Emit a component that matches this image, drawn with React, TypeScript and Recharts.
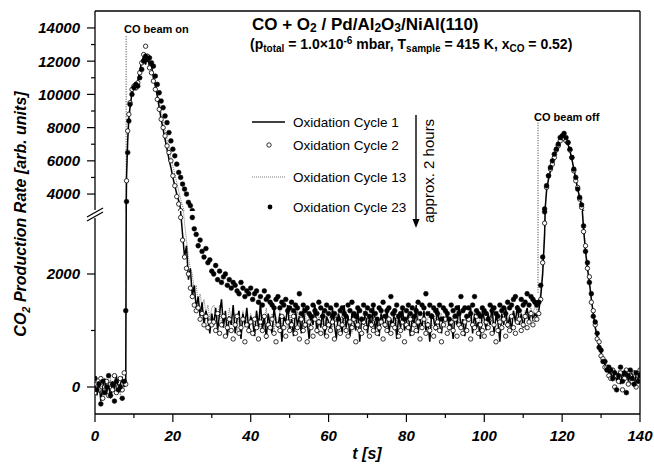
import { Line, LineChart, ReferenceLine, XAxis, YAxis } from 'recharts';

// sampling grid of the recorded traces (s)
const span = (from: number, to: number, step: number) =>
    Array.from({ length: Math.round((to - from) / step) + 1 }, (_, i) => from + i * step);

const times = [
    ...span(0, 7.5, 0.5),
    7.9, 8.1, 8.4, 8.7,
    ...span(9, 30, 0.5),
    ...span(30.5, 113, 0.5),
    ...span(113.5, 132, 0.5),
    ...span(132.5, 140, 0.5),
];

// CO2 rate, arb. units
const cycle1 = [
    50, -150, 100, -250, 0, 150, -100, 50, -200, 100, -50, 200, -100, 50, 150, 0,
    100, 5000, 7200, 8600,
    9200, 10100, 10400, 10300, 10800, 11400, 12000, 12300, 11800, 12400, 11600, 11800, 11000, 10500, 9900, 9200,
    8500, 7900, 7300, 6700, 6100, 5600, 5000, 4500, 4000, 3600, 3100, 2700, 2300, 2500, 1900, 2100, 1600, 1800,
    1400, 1600, 1250, 1500, 1100, 1350, 1200, 950, 1300,
    1100, 1400, 1000, 1300, 1550, 1050, 1350, 900, 1250, 1100,
    1450, 950, 1200, 1350, 850, 1300, 1100, 1400, 1000, 1250,
    1150, 900, 1350, 1050, 1500, 1000, 1250, 850, 1300, 1100,
    950, 1400, 1150, 1050, 1300, 800, 1250, 1150, 1450, 1000,
    1200, 900, 1350, 1100, 1250, 950, 1400, 1050, 1150, 850,
    1300, 1100, 1450, 950, 1200, 1050, 1350, 900, 1250, 1150,
    1000, 1400, 1100, 850, 1300, 1200, 950, 1450, 1050, 1250,
    900, 1300, 1150, 1000, 1400, 800, 1200, 1100, 1350, 950,
    1250, 1050, 1450, 1000, 1200, 900, 1300, 1150, 1050, 1400,
    950, 1200, 1100, 1350, 850, 1250, 1050, 1400, 1000, 1150,
    1300, 900, 1250, 1100, 1450, 950, 1200, 1050, 1350, 1000,
    1150, 800, 1300, 1200, 1000, 1400, 1100, 950, 1250, 1150,
    1350, 1000, 1200, 850, 1300, 1100, 1450, 1050, 1200, 900,
    1250, 1150, 1400, 950, 1300, 1050, 1150, 850, 1350, 1200,
    1000, 1300, 1100, 1450, 950, 1250, 1150, 800, 1300, 1100,
    1400, 1050, 1250, 1000, 1350, 1150, 1450, 1100, 1300, 1050,
    1250, 1400, 1150, 1350, 1200, 1300,
    1250, 1350, 1600, 2000, 2700, 4200, 4900, 5400, 5900, 6300, 6600, 7000, 7300, 7450, 7500, 7300, 7000, 6600, 6100,
    5500, 4900, 4300, 3800, 3300, 2800, 2400, 2100, 1850, 1550, 1300, 1050, 900, 700, 600, 450, 400, 300, 250,
    250, 150, 300, 100, 200, 50, 250, 150, 300, 100, 200, 250, 50, 200, 150, 250,
];

const cycle2 = [
    -100, 50, -50, 150, -200, 0, 100, -150, 50, -50, 200, -100, 0, 150, -50, 250,
    50, 4800, 7800, 8800,
    9500, 10300, 10500, 10400, 10700, 11300, 11900, 12400, 12900, 12300, 11600, 11300, 10800, 10300, 9700, 9100,
    8500, 8000, 7500, 6900, 6500, 6000, 5100, 4500, 3850, 3400, 3000, 2600, 2300, 2100, 2000, 1750, 1600, 1450,
    1350, 1400, 1200, 1300, 1100, 1250, 1050, 1150, 1100,
    1150, 1000, 1300, 950, 1100, 1250, 900, 1050, 1200, 1000,
    850, 1100, 1250, 950, 1050, 1200, 800, 1100, 1000, 1150,
    950, 1200, 1050, 850, 1150, 1000, 1250, 900, 1100, 1050,
    1200, 950, 800, 1100, 1000, 1250, 1050, 900, 1150, 1000,
    1100, 1250, 950, 1050, 850, 1200, 1000, 1100, 800, 1150,
    1050, 900, 1200, 1000, 1150, 950, 1250, 1050, 900, 1100,
    1000, 1150, 850, 1200, 1050, 950, 1100, 1250, 1000, 900,
    1150, 1050, 1200, 800, 1100, 1000, 950, 1150, 1050, 1250,
    900, 1100, 1000, 1200, 950, 1050, 1150, 850, 1100, 1000,
    1200, 950, 1100, 1050, 1250, 900, 1000, 1150, 800, 1100,
    1050, 1200, 950, 1100, 1000, 1150, 850, 1050, 1200, 950,
    1100, 1000, 1250, 900, 1050, 1150, 1000, 800, 1100, 1200,
    950, 1050, 1150, 1000, 1200, 900, 1100, 1050, 950, 1150,
    1000, 1200, 850, 1100, 1050, 1250, 950, 1100, 1000, 900,
    1150, 1050, 1200, 950, 1100, 800, 1000, 1150, 1050, 1200,
    900, 1100, 1000, 1250, 1050, 950, 1150, 1200, 1000, 1100,
    1250, 1050, 1150, 1300, 1100, 1200,
    1200, 1300, 1550, 2200, 2900, 4400, 5100, 5500, 5800, 6200, 6650, 6900, 7200, 7400, 7350, 7200, 7100, 6650, 6200,
    5400, 4800, 4400, 3700, 3200, 2750, 2500, 2100, 1950, 1500, 1350, 1100, 850, 800, 550, 500, 350, 350, 200,
    150, 300, 0, 200, 100, 250, -50, 150, 300, 50, 200, 100, 250, 0, 200, 300,
];

const cycle13 = [
    0, 100, -100, 50, -150, 100, 0, -50, 150, -100, 50, 0, 100, -150, 50, 100,
    0, 5500, 7500, 8900,
    9300, 10000, 10300, 10500, 10900, 11200, 11700, 12100, 12300, 12000, 11900, 11500, 11200, 10700, 10200, 9600,
    9000, 8400, 7900, 7300, 6800, 6200, 5700, 5200, 4700, 4200, 3700, 3300, 2900, 2600, 2300, 2100, 2000, 1700,
    1800, 1500, 1650, 1400, 1550, 1300, 1450, 1200, 1400,
    1450, 1350, 1200, 1450, 1100, 1300, 1250, 1050, 1400, 1200,
    1100, 1300, 1000, 1250, 1150, 1350, 1050, 1200, 950, 1300,
    1150, 1050, 1350, 1200, 1000, 1250, 1150, 1400, 1050, 1200,
    1300, 1000, 1250, 1100, 1350, 950, 1200, 1150, 1050, 1300,
    1100, 1250, 1000, 1350, 1150, 1200, 950, 1300, 1100, 1250,
    1050, 1200, 1300, 1000, 1250, 1150, 1100, 1350, 1000, 1200,
    1250, 1050, 1200, 1300, 1000, 1150, 1250, 1050, 1350, 1100,
    1200, 950, 1300, 1150, 1050, 1250, 1100, 1350, 1000, 1200,
    1150, 1300, 1050, 1250, 1100, 1000, 1350, 1200, 1150, 1050,
    1250, 1100, 1300, 1000, 1200, 1150, 1050, 1350, 1100, 1250,
    1000, 1200, 1150, 1300, 1050, 1250, 1100, 1000, 1300, 1150,
    1200, 1350, 1050, 1150, 1250, 1000, 1200, 1300, 1100, 1050,
    1300, 1150, 1000, 1250, 1100, 1350, 1050, 1200, 1150, 1000,
    1200, 1300, 1100, 1050, 1250, 1150, 1000, 1300, 1200, 1100,
    1050, 1250, 1150, 1300, 1000, 1200, 1350, 1100, 1250, 1150,
    1300, 1150, 1050, 1250, 1350, 1200, 1100, 1300, 1250, 1150,
    1350, 1200, 1300, 1400, 1250, 1450,
    1350, 1450, 1700, 2100, 2850, 4300, 5000, 5500, 6000, 6300, 6600, 7100, 7300, 7500, 7550, 7400, 7050, 6700, 6150,
    5600, 4950, 4350, 3850, 3300, 2850, 2450, 2200, 1900, 1600, 1300, 1100, 900, 750, 600, 500, 400, 300, 300,
    200, 100, 250, 150, 300, 50, 200, 100, 250, 150, 50, 200, 300, 100, 200, 150,
];

const cycle23 = [
    150, -50, 50, -300, 100, -100, 0, 200, -150, 50, -250, 100, -50, 0, -200, 100,
    1350, 3550, 6500, 8400,
    9400, 10000, 10400, 10600, 10500, 11000, 11500, 12000, 12300, 12100, 12200, 11900, 11700, 11100, 10600, 10100,
    9600, 9200, 8700, 8300, 7700, 7200, 6700, 6300, 5800, 5300, 5000, 4600, 4300, 4000, 3500, 3300, 3000, 2800,
    2700, 2500, 2600, 2400, 2300, 2450, 2200, 2250, 2050,
    2000, 2150, 1900, 2050, 1850, 1950, 2000, 1800, 1900, 1750,
    1850, 1800, 1700, 1650, 1850, 1750, 1600, 1700, 1650, 1750,
    1550, 1650, 1700, 1500, 1600, 1450, 1700, 1550, 1600, 1500,
    1450, 1400, 1550, 1600, 1400, 1500, 1450, 1550, 1350, 1400,
    1500, 1350, 1450, 1400, 1650, 1300, 1450, 1350, 1400, 1300,
    1250, 1450, 1350, 1300, 1500, 1400, 1250, 1350, 1450, 1300,
    1400, 1250, 1300, 1450, 1200, 1350, 1400, 1300, 1250, 1450,
    1350, 1500, 1300, 1250, 1400, 1350, 1200, 1450, 1300, 1400,
    1250, 1350, 1450, 1300, 1200, 1400, 1350, 1500, 1250, 1350,
    1400, 1600, 1300, 1350, 1450, 1250, 1300, 1400, 1200, 1350,
    1450, 1300, 1400, 1250, 1350, 1500, 1300, 1450, 1400, 1650,
    1300, 1450, 1250, 1400, 1350, 1300, 1450, 1200, 1400, 1350,
    1300, 1200, 1450, 1350, 1250, 1400, 1300, 1600, 1350, 1400,
    1250, 1400, 1300, 1450, 1600, 1350, 1300, 1250, 1400, 1350,
    1300, 1200, 1450, 1350, 1400, 1300, 1250, 1450, 1350, 1400,
    1300, 1500, 1400, 1450, 1550, 1600, 1400, 1350, 1550, 1450,
    1500, 1650, 1450, 1600, 1550, 1500,
    1450, 1500, 1800, 2300, 3100, 4500, 5100, 5600, 6000, 6400, 6700, 7000, 7400, 7500, 7650, 7400, 7100, 6700, 6200,
    5500, 5000, 4300, 3800, 3350, 2850, 2400, 2200, 1850, 1650, 1250, 1150, 950, 700, 650, 450, 450, 300, 350,
    300, 150, 250, -50, 200, 350, 100, 250, -100, 200, 300, 150, 50, 250, 100, 200,
];

const xTicks = [0, 10, 20, 30, 40, 50, 60, 70, 80, 90, 100, 110, 120, 130, 140];
const upperTicks = [4000, 5000, 6000, 7000, 8000, 9000, 10000, 11000, 12000, 13000, 14000];
const lowerTicks = [0, 1000, 2000];

const BEAM_ON = 8;
const BEAM_OFF = 113.8;

const rows = times.map((t, i) => ({ t, c1: cycle1[i], c2: cycle2[i], c13: cycle13[i], c23: cycle23[i] }));

const FONT = '"Liberation Sans", Arial, Helvetica, sans-serif';
const axisFont = { fontFamily: FONT, fontWeight: 700, fontStyle: 'italic' as const, fontSize: 15, fill: '#000' };

const Y_TICK = 8;
const Y_GAP = 7;
const X_TICK = 8;
const X_GAP = 8;

function YTick(props: any) {
    const { x, y, payload } = props;
    const v = payload.value;
    const ax = x + Y_TICK + Y_GAP;
    const major = v % 2000 === 0;
    return (
        <g>
            <line x1={ax - (major ? 8 : 4)} x2={ax} y1={y} y2={y} stroke="#000" strokeWidth={1.2} />
            {major && (
                <text x={x} y={y} dy="0.36em" textAnchor="end" {...axisFont}>
                    {v}
                </text>
            )}
        </g>
    );
}

function XTick(props: any) {
    const { x, y, payload } = props;
    const v = payload.value;
    const ay = y - X_TICK - X_GAP;
    const major = v % 20 === 0;
    return (
        <g>
            <line x1={x} x2={x} y1={ay} y2={ay + (major ? 8 : 4)} stroke="#000" strokeWidth={1.2} />
            {major && (
                <text x={x} y={y} dy="0.72em" textAnchor="middle" {...axisFont}>
                    {v}
                </text>
            )}
        </g>
    );
}

const axisLine = { stroke: '#000', strokeWidth: 1.3 };

function traces() {
    return [
        <Line key="c13" dataKey="c13" stroke="#555" strokeWidth={0.8} strokeDasharray="1 1" dot={false} activeDot={false} isAnimationActive={false} />,
        <Line key="c1" dataKey="c1" stroke="#000" strokeWidth={1.5} dot={false} activeDot={false} isAnimationActive={false} />,
        <Line key="c2" dataKey="c2" stroke="none" dot={{ r: 2.2, stroke: '#000', strokeWidth: 0.8, fill: '#fff' }} activeDot={false} isAnimationActive={false} />,
        <Line key="c23" dataKey="c23" stroke="none" dot={{ r: 2.4, stroke: '#000', strokeWidth: 0.5, fill: '#000' }} activeDot={false} isAnimationActive={false} />,
    ];
}

const beamStyle = { stroke: '#333', strokeWidth: 1, strokeDasharray: '1 1.5' };

export default function App() {
    return (
        <div style={{ position: 'absolute', left: 0, top: 0, width: 654, height: 464, background: '#fff' }}>
            <div style={{ position: 'absolute', left: 0, top: 0 }}>
                <LineChart width={654} height={211} data={rows} margin={{ top: 11, right: 14, bottom: 0, left: 0 }}>
                    <XAxis type="number" dataKey="t" domain={[0, 140]} hide allowDataOverflow />
                    <YAxis
                        type="number"
                        domain={[2980, 15020]}
                        ticks={upperTicks}
                        interval={0}
                        allowDataOverflow
                        width={95}
                        tickSize={Y_TICK}
                        tickMargin={Y_GAP}
                        tickLine={false}
                        tick={<YTick />}
                        axisLine={axisLine}
                    />
                    <ReferenceLine segment={[{ x: BEAM_ON, y: 13500 }, { x: BEAM_ON, y: 3000 }]} {...beamStyle} />
                    <ReferenceLine segment={[{ x: BEAM_OFF, y: 8300 }, { x: BEAM_OFF, y: 3000 }]} {...beamStyle} />
                    {traces()}
                </LineChart>
            </div>
            <div style={{ position: 'absolute', left: 0, top: 211 }}>
                <LineChart width={654} height={253} data={rows} margin={{ top: 0, right: 14, bottom: 0, left: 0 }}>
                    <XAxis
                        type="number"
                        dataKey="t"
                        domain={[0, 140]}
                        ticks={xTicks}
                        interval={0}
                        allowDataOverflow
                        height={50}
                        tickSize={X_TICK}
                        tickMargin={X_GAP}
                        tickLine={false}
                        tick={<XTick />}
                        axisLine={axisLine}
                    />
                    <YAxis
                        type="number"
                        domain={[-478, 3115]}
                        ticks={lowerTicks}
                        interval={0}
                        allowDataOverflow
                        width={95}
                        tickSize={Y_TICK}
                        tickMargin={Y_GAP}
                        tickLine={false}
                        tick={<YTick />}
                        axisLine={axisLine}
                    />
                    <ReferenceLine segment={[{ x: BEAM_OFF, y: 3100 }, { x: BEAM_OFF, y: 1650 }]} {...beamStyle} />
                    {traces()}
                </LineChart>
            </div>
            <svg width={654} height={464} style={{ position: 'absolute', left: 0, top: 0, pointerEvents: 'none' }}>
                {/* frame */}
                <line x1={95} y1={11} x2={640} y2={11} stroke="#000" strokeWidth={1.3} />
                <line x1={640} y1={11} x2={640} y2={414} stroke="#000" strokeWidth={1.3} />
                {/* axis break */}
                <rect x={91} y={210} width={8} height={8} fill="#fff" />
                <line x1={87} y1={217} x2={103} y2={208} stroke="#000" strokeWidth={1.2} />
                <line x1={87} y1={221} x2={103} y2={212} stroke="#000" strokeWidth={1.2} />

                <text x={252} y={30} fontFamily={FONT} fontWeight={700} fontSize={17}>
                    CO + O<tspan fontSize={12} dy={2}>2</tspan>
                    <tspan dy={-2}> / Pd/Al</tspan>
                    <tspan fontSize={12} dy={2}>2</tspan>
                    <tspan dy={-2}>O</tspan>
                    <tspan fontSize={12} dy={2}>3</tspan>
                    <tspan dy={-2}>/NiAl(110)</tspan>
                </text>
                <text x={250} y={49} fontFamily={FONT} fontWeight={700} fontSize={14}>
                    (p<tspan fontSize={10} dy={3}>total</tspan>
                    <tspan dy={-3}> = 1.0×10</tspan>
                    <tspan fontSize={10} dy={-5}>-6</tspan>
                    <tspan dy={5}> mbar, T</tspan>
                    <tspan fontSize={10} dy={3}>sample</tspan>
                    <tspan dy={-3}> = 415 K, x</tspan>
                    <tspan fontSize={10} dy={3}>CO</tspan>
                    <tspan dy={-3}> = 0.52)</tspan>
                </text>

                <text x={124} y={33} fontFamily={FONT} fontWeight={700} fontSize={11}>CO beam on</text>
                <text x={534} y={121} fontFamily={FONT} fontWeight={700} fontSize={11}>CO beam off</text>

                {/* legend */}
                <g fontFamily={FONT} fontSize={13.5}>
                    <line x1={252} y1={122} x2={285} y2={122} stroke="#000" strokeWidth={1.6} />
                    <text x={293} y={122} dy="0.35em">Oxidation Cycle 1</text>
                    <circle cx={269} cy={145} r={2.2} stroke="#000" strokeWidth={0.8} fill="#fff" />
                    <text x={293} y={145} dy="0.35em">Oxidation Cycle 2</text>
                    <line x1={252} y1={177} x2={285} y2={177} stroke="#555" strokeWidth={0.8} strokeDasharray="1 1" />
                    <text x={293} y={177} dy="0.35em">Oxidation Cycle 13</text>
                    <circle cx={270} cy={207} r={2.4} fill="#000" />
                    <text x={293} y={207} dy="0.35em">Oxidation Cycle 23</text>
                </g>

                {/* arrow */}
                <line x1={416} y1={115} x2={416} y2={221} stroke="#000" strokeWidth={1.4} />
                <path d="M412.5,219 L419.5,219 L416,228 Z" fill="#000" />
                <text transform="translate(434,171) rotate(-90)" textAnchor="middle" fontFamily={FONT} fontSize={15}>
                    approx. 2 hours
                </text>

                {/* axis titles */}
                <text transform="translate(26,214) rotate(-90)" textAnchor="middle" {...axisFont} fontSize={16}>
                    CO<tspan fontSize={11} dy={4}>2</tspan>
                    <tspan dy={-4}> Production Rate [arb. units]</tspan>
                </text>
                <text x={367} y={459} textAnchor="middle" {...axisFont} fontSize={16}>t [s]</text>
            </svg>
        </div>
    );
}
